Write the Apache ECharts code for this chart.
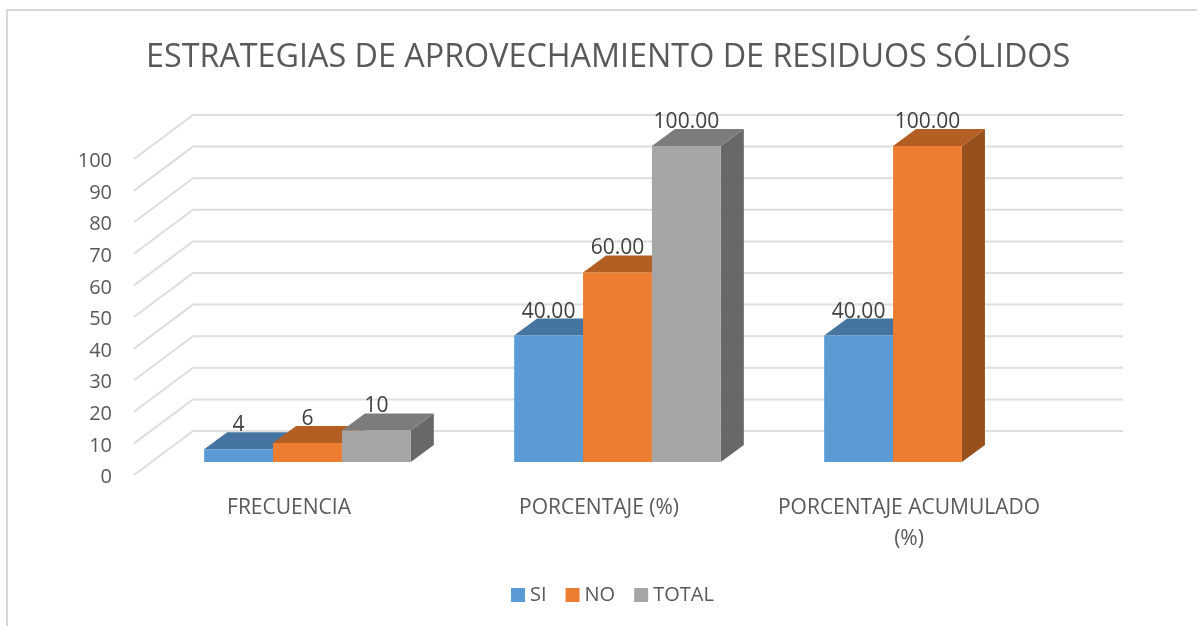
<!DOCTYPE html>
<html>
<head>
<meta charset="utf-8">
<title>Estrategias de aprovechamiento de residuos sólidos</title>
<script src="https://cdn.jsdelivr.net/npm/echarts@6/dist/echarts.min.js"></script>
<style>
  html, body { margin: 0; padding: 0; background: #fff; }
  #chart { width: 1197px; height: 626px; }
</style>
</head>
<body>
<div id="chart"></div>
<script>
  // datos
  var categories = ['FRECUENCIA', 'PORCENTAJE (%)', 'PORCENTAJE ACUMULADO\n(%)']
  var seriesNames = ['SI', 'NO', 'TOTAL']
  var siValues = [4, 40, 40]
  var noValues = [6, 60, 100]
  var totalValues = [10, 100, null]
  var labelDecimals = [0, 2, 2]
  var gridValues = [0, 10, 20, 30, 40, 50, 60, 70, 80, 90, 100]

  // frente, tapa y lateral de cada serie
  var frontColors = ['#5b9bd5', '#ed7d31', '#a5a5a5']
  var topColors = ['#44749f', '#b35f23', '#7c7c7c']
  var sideColors = ['#3d6a92', '#97501c', '#686868']

  var FONT = '"Open Sans", sans-serif'
  var TEXT_COLOR = '#595959'
  var WALL_DX = 59, WALL_DY = -44   // fondo del grafico
  var BAR_DX = 18.5, BAR_DY = -13   // plano de las barras
  var DEPTH_DX = 23, DEPTH_DY = -17 // profundidad de cada barra

  function renderGrid(params, api) {
    var cs = params.coordSys
    var y = api.coord([0, api.value(1)])[1]
    return {
      type: 'polyline',
      shape: { points: [[cs.x, y], [cs.x + WALL_DX, y + WALL_DY], [cs.x + cs.width + WALL_DX, y + WALL_DY]] },
      style: { stroke: '#dedede', lineWidth: 2, fill: null }
    }
  }

  function barSeries(index, values) {
    return {
      name: seriesNames[index],
      type: 'custom',
      z: 3 + index,
      itemStyle: { color: frontColors[index] },
      encode: { x: 0, y: 1 },
      data: values.map(function (v, i) { return [i, v] }),
      renderItem: function (params, api) {
        if (api.value(1) === null || isNaN(api.value(1))) return
        var cat = api.value(0)
        var w = api.size([1, 0])[0] * 2 / 9
        var top = api.coord([cat, api.value(1)])
        var base = api.coord([cat, 0])
        var x0 = top[0] + (index - 1.5) * w + BAR_DX
        var x1 = x0 + w
        var y0 = top[1] + BAR_DY
        var y1 = base[1] + BAR_DY
        var dx = DEPTH_DX, dy = DEPTH_DY
        return {
          type: 'group',
          children: [
            { type: 'polygon', shape: { points: [[x1, y0], [x1 + dx, y0 + dy], [x1 + dx, y1 + dy], [x1, y1]] }, style: { fill: sideColors[index] } },
            { type: 'polygon', shape: { points: [[x0, y0], [x0 + dx, y0 + dy], [x1 + dx, y0 + dy], [x1, y0]] }, style: { fill: topColors[index] } },
            { type: 'rect', shape: { x: x0, y: y0, width: w, height: y1 - y0 }, style: { fill: frontColors[index] } },
            {
              type: 'text',
              x: x0 + w / 2,
              y: y0 - 24,
              style: {
                text: api.value(1).toFixed(labelDecimals[cat]),
                textAlign: 'center',
                textVerticalAlign: 'middle',
                fill: '#404040',
                font: '21px ' + FONT
              }
            }
          ]
        }
      }
    }
  }

  var chart = echarts.init(document.getElementById('chart'))
  var option = {
    animation: false,
    backgroundColor: '#fff',
    title: {
      text: 'ESTRATEGIAS DE APROVECHAMIENTO DE RESIDUOS SÓLIDOS',
      left: 141,
      top: 37,
      textStyle: { color: TEXT_COLOR, fontFamily: FONT, fontWeight: 'normal', fontSize: 32.3 }
    },
    legend: {
      data: seriesNames,
      bottom: 16,
      left: 506,
      itemWidth: 14,
      itemHeight: 14,
      itemGap: 19,
      icon: 'rect',
      textStyle: { color: TEXT_COLOR, fontFamily: FONT, fontSize: 20 }
    },
    grid: { left: 134, right: 133, top: 159, bottom: 151 },
    xAxis: {
      type: 'category',
      data: categories,
      axisLine: { show: false },
      axisTick: { show: false },
      axisLabel: { color: TEXT_COLOR, fontFamily: FONT, fontSize: 21, margin: 18, lineHeight: 31, interval: 0 }
    },
    yAxis: {
      type: 'value',
      min: 0,
      max: 100,
      interval: 10,
      axisLine: { show: false },
      axisTick: { show: false },
      splitLine: { show: false },
      // verticalAlign top con lineHeight chico baja el texto unos px
      axisLabel: { color: TEXT_COLOR, fontFamily: FONT, fontSize: 20, margin: 22, verticalAlign: 'top', lineHeight: 5 }
    },
    graphic: [{
      type: 'polyline',
      silent: true,
      shape: { points: [[7, 626], [7, 10], [1197, 10]] },
      style: { stroke: '#d9d9d9', lineWidth: 2, fill: null }
    }],
    series: [
      {
        name: 'rejilla',
        type: 'custom',
        z: 1,
        silent: true,
        encode: { x: 0, y: 1 },
        data: gridValues.map(function (v) { return [0, v] }),
        renderItem: renderGrid
      },
      barSeries(0, siValues),
      barSeries(1, noValues),
      barSeries(2, totalValues)
    ]
  }
  chart.setOption(option)
</script>
</body>
</html>
